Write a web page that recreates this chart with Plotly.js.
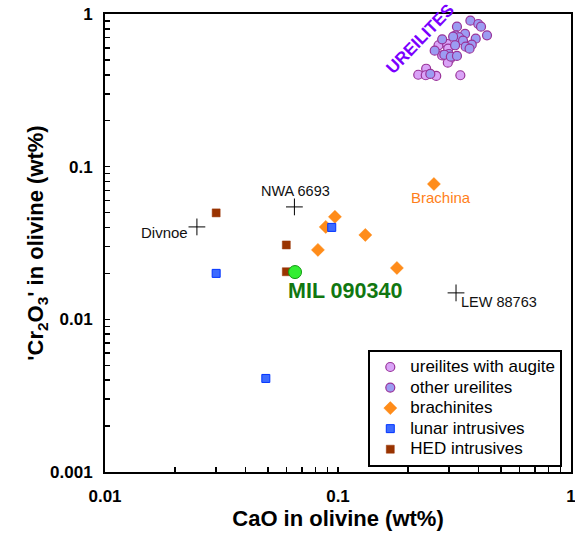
<!DOCTYPE html>
<html>
<head>
<meta charset="utf-8">
<script src="https://cdn.plot.ly/plotly-3.0.1.min.js"></script>
<style>html,body{margin:0;padding:0;background:#fff;}#chart{width:575px;height:535px;}</style>
</head>
<body>
<div id="chart"></div>
<script>
// ---- data ----
const augiteCaO = [0.270, 0.294, 0.297, 0.303, 0.296, 0.280, 0.239, 0.221, 0.238, 0.264, 0.335];
const augiteCr  = [0.624, 0.636, 0.593, 0.510, 0.480, 0.535, 0.438, 0.400, 0.397, 0.393, 0.397];

const otherCaO = [0.370, 0.400, 0.411, 0.324, 0.320, 0.436, 0.351, 0.390, 0.331, 0.312, 0.280, 0.344, 0.375, 0.318, 0.353, 0.367, 0.260, 0.299, 0.286, 0.305, 0.324, 0.249];
const otherCr  = [0.904, 0.860, 0.826, 0.826, 0.725, 0.725, 0.740, 0.689, 0.704, 0.710, 0.683, 0.669, 0.630, 0.624, 0.611, 0.593, 0.575, 0.547, 0.541, 0.525, 0.531, 0.405];

const brachCaO = [0.097, 0.0886, 0.131, 0.082, 0.179, 0.258];
const brachCr  = [0.0469, 0.0403, 0.0357, 0.0285, 0.0217, 0.077];

const lunarCaO = [0.030, 0.094, 0.049];
const lunarCr  = [0.020, 0.040, 0.0041];

const hedCaO = [0.030, 0.060, 0.060];
const hedCr  = [0.0498, 0.0307, 0.0205];

const otherNames = ["NWA 6693", "Divnoe", "LEW 88763"];
const otherObjCaO = [0.065, 0.0248, 0.321];
const otherObjCr  = [0.0545, 0.0403, 0.0149];

const milName = "MIL 090340";
const milCaO = [0.0654];
const milCr  = [0.0204];

const seriesNames = ["ureilites with augite", "other ureilites", "brachinites", "lunar intrusives", "HED intrusives"];

// tick positions: 1..9 × each decade; labels only on the decades
const xTickVals = [0.01, 0.02, 0.03, 0.04, 0.05, 0.06, 0.07, 0.08, 0.09, 0.1, 0.2, 0.3, 0.4, 0.5, 0.6, 0.7, 0.8, 0.9, 1];
const xTickText = ["0.01", "", "", "", "", "", "", "", "", "0.1", "", "", "", "", "", "", "", "", "1"];
const yTickVals = [0.001, 0.002, 0.003, 0.004, 0.005, 0.006, 0.007, 0.008, 0.009, 0.01, 0.02, 0.03, 0.04, 0.05, 0.06, 0.07, 0.08, 0.09, 0.1, 0.2, 0.3, 0.4, 0.5, 0.6, 0.7, 0.8, 0.9, 1];
const yTickText = ["0.001", "", "", "", "", "", "", "", "", "0.01", "", "", "", "", "", "", "", "", "0.1", "", "", "", "", "", "", "", "", "1"];

const FONT = "Liberation Sans, Arial, sans-serif";
const leg = s => "<span style='font-size:17px'>" + s + "</span>";
const traces = [
  {x: augiteCaO, y: augiteCr, type: "scatter", mode: "markers", name: leg(seriesNames[0]),
   marker: {symbol: "circle", size: 9, color: "#d9a3f7", line: {color: "#993399", width: 1.2}}},
  {x: otherCaO, y: otherCr, type: "scatter", mode: "markers", name: leg(seriesNames[1]),
   marker: {symbol: "circle", size: 9, color: "#9c9cf2", line: {color: "#993399", width: 1.2}}},
  {x: brachCaO, y: brachCr, type: "scatter", mode: "markers", name: leg(seriesNames[2]),
   marker: {symbol: "diamond", size: 10, color: "#ff8c1a", line: {color: "#ff8000", width: 0.5}}},
  {x: lunarCaO, y: lunarCr, type: "scatter", mode: "markers", name: leg(seriesNames[3]),
   marker: {symbol: "square", size: 8, color: "#3d6bff", line: {color: "#0033ff", width: 1}}},
  {x: hedCaO, y: hedCr, type: "scatter", mode: "markers", name: leg(seriesNames[4]),
   marker: {symbol: "square", size: 8, color: "#993300", line: {color: "#993300", width: 0.5}}},
  {x: otherObjCaO, y: otherObjCr, type: "scatter", mode: "markers", showlegend: false,
   marker: {symbol: "cross-thin", size: 12, color: "#000", line: {color: "#000", width: 1}}},
  {x: milCaO, y: milCr, type: "scatter", mode: "markers", showlegend: false,
   marker: {symbol: "circle", size: 13, color: "#33ee33", line: {color: "#119911", width: 1}}}
];

const L = Math.log10;
const annotations = [
  {x: L(otherObjCaO[0]), y: L(otherObjCr[0]), text: otherNames[0], showarrow: false, xanchor: "center", yanchor: "bottom", xshift: 1, yshift: 6,
   font: {family: FONT, size: 14.5, color: "#111"}},
  {x: L(otherObjCaO[1]), y: L(otherObjCr[1]), text: otherNames[1], showarrow: false, xanchor: "right", yanchor: "middle", xshift: -7, yshift: -6,
   font: {family: FONT, size: 15, color: "#111"}},
  {x: L(otherObjCaO[2]), y: L(otherObjCr[2]), text: otherNames[2], showarrow: false, xanchor: "left", yanchor: "middle", xshift: 3, yshift: -9,
   font: {family: FONT, size: 14.5, color: "#111"}},
  {x: L(brachCaO[5]), y: L(brachCr[5]), text: "Brachina", showarrow: false, xanchor: "center", yanchor: "top", xshift: 7, yshift: -3,
   font: {family: FONT, size: 15, color: "#ff7f1a"}},
  {x: L(milCaO[0]), y: L(milCr[0]), text: "<b>" + milName + "</b>", showarrow: false, xanchor: "left", yanchor: "middle", xshift: -9, yshift: -19,
   font: {family: FONT, size: 21.5, color: "#117711"}},
  {x: L(0.227), y: L(0.656), text: "<b>UREILITES</b>", showarrow: false, textangle: -46, xanchor: "center", yanchor: "middle", yshift: 3,
   font: {family: FONT, size: 17, color: "#7a00ff"}}
];

const axisCommon = {
  type: "log", showgrid: false, zeroline: false,
  showline: true, linecolor: "#000", linewidth: 2, mirror: true,
  ticks: "inside", ticklen: 5, tickwidth: 1.5, tickcolor: "#000",
  tickmode: "array", ticklabeloverflow: "allow",
  tickfont: {family: FONT, size: 17, color: "#000", weight: "bold"}
};

const layout = {
  width: 575, height: 535,
  margin: {l: 105, r: 4, t: 14, b: 63},
  paper_bgcolor: "#fff", plot_bgcolor: "#fff",
  showlegend: true,
  legend: {x: 0.565, y: 0.267, xanchor: "left", yanchor: "top",
    bordercolor: "#000", borderwidth: 2, bgcolor: "#fff",
    font: {family: FONT, size: 13.5, color: "#000"}, tracegroupgap: 0, itemwidth: 30},
  xaxis: Object.assign({}, axisCommon, {range: [-2, 0], tickvals: xTickVals, ticktext: xTickText, ticklabelstandoff: 8,
    title: {text: "<b>CaO in olivine (wt%)</b>", font: {family: FONT, size: 22, color: "#000"}, standoff: 4}}),
  yaxis: Object.assign({}, axisCommon, {range: [-3, 0], tickvals: yTickVals, ticktext: yTickText, ticklabelstandoff: 7,
    title: {text: "<b>'Cr<sub>2</sub>O<sub>3</sub>' in olivine (wt%)</b>", font: {family: FONT, size: 22, color: "#000"}, standoff: 0}}),
  annotations: annotations
};

Plotly.newPlot("chart", traces, layout, {displayModeBar: false, staticPlot: true});
</script>
</body>
</html>
